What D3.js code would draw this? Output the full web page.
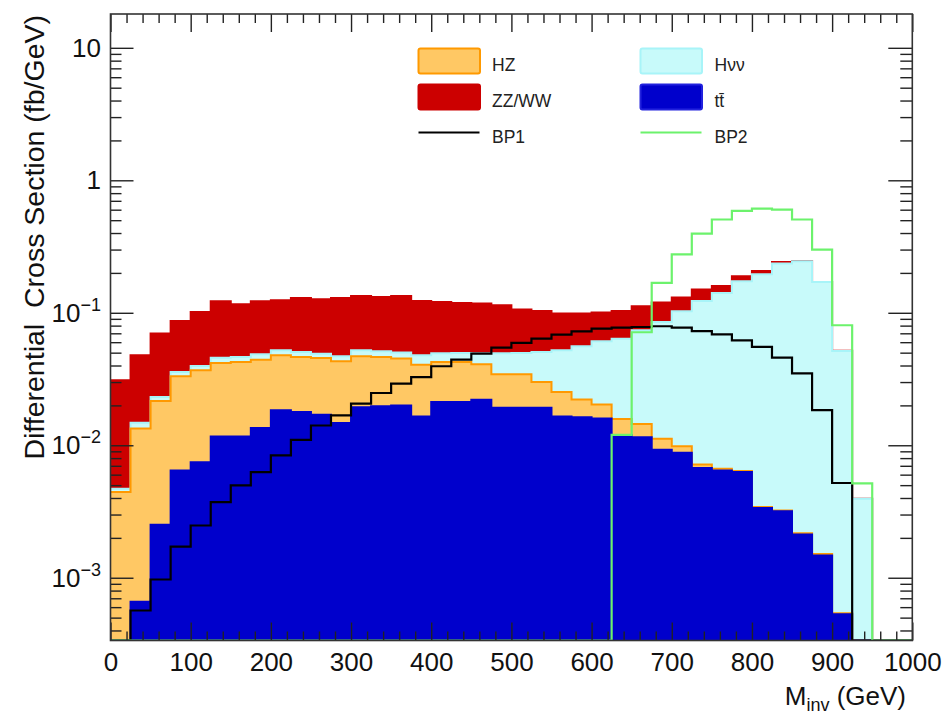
<!DOCTYPE html>
<html>
<head>
<meta charset="utf-8">
<script src="https://cdn.jsdelivr.net/npm/d3@7"></script>
<style>
  body { margin: 0; background: #fff; }
  svg { display: block; font-family: "Liberation Sans", Arial, Helvetica, sans-serif; }
</style>
</head>
<body>
<svg id="chart" width="946" height="714"></svg>
<script>
// Invariant-mass bins (lower edges, GeV); every bin is 25 GeV wide
const binLow = [0, 25, 50, 75, 100, 125, 150, 175, 200, 225, 250, 275, 300, 325, 350, 375,
  400, 425, 450, 475, 500, 525, 550, 575, 600, 625, 650, 675, 700, 725, 750, 775,
  800, 825, 850, 875, 900, 925, 950, 975];
const binWidth = 25;

// Backgrounds (fb/GeV per bin), stacked bottom to top: ttbar, HZ, Hvv, ZZ/WW
const ttbar = [0, 6.6e-4, 2.51e-3, 6.46e-3, 7.46e-3, 1.167e-2, 1.167e-2, 1.35e-2, 1.835e-2, 1.78e-2,
  1.70e-2, 1.47e-2, 1.94e-2, 1.97e-2, 2.00e-2, 1.65e-2, 2.12e-2, 2.12e-2, 2.21e-2, 1.92e-2,
  1.92e-2, 1.92e-2, 1.65e-2, 1.63e-2, 1.59e-2, 1.19e-2, 1.15e-2, 9.26e-3, 8.79e-3, 6.73e-3,
  6.46e-3, 6.28e-3, 3.36e-3, 3.17e-3, 2.12e-3, 1.47e-3, 5.3e-4, 0, 0, 0];
const hz = [4.43e-3, 1.27e-2, 1.906e-2, 2.67e-2, 2.93e-2, 3.01e-2, 3.08e-2, 3.08e-2, 2.94e-2, 2.855e-2,
  2.85e-2, 2.83e-2, 2.75e-2, 2.67e-2, 2.51e-2, 2.41e-2, 2.13e-2, 2.13e-2, 1.87e-2, 1.51e-2,
  1.51e-2, 1.08e-2, 8.7e-3, 5.9e-3, 4.4e-3, 3.9e-3, 3.0e-3, 1.95e-3, 1.02e-3, 4.4e-4,
  2.0e-4, 1.0e-4, 6e-5, 5e-5, 5e-5, 4e-5, 1e-5, 0, 0, 0];
const hvv = [2.7e-4, 1.4e-3, 1.55e-3, 2.57e-3, 2.85e-3, 4.1e-3, 3.9e-3, 4.3e-3, 4.35e-3, 4.2e-3,
  3.6e-3, 3.9e-3, 5.2e-3, 4.8e-3, 5.0e-3, 7.1e-3, 7.0e-3, 7.2e-3, 8.6e-3, 1.51e-2,
  1.54e-2, 2.06e-2, 2.69e-2, 3.36e-2, 4.07e-2, 4.79e-2, 5.92e-2, 7.40e-2, 9.28e-2, 0.1156,
  0.1344, 0.1665, 0.1919, 0.232, 0.2428, 0.1693, 5.1e-2, 3.95e-3, 0, 0];
const zzww = [2.62e-2, 3.31e-2, 4.66e-2, 5.10e-2, 6.18e-2, 7.62e-2, 6.95e-2, 7.35e-2, 7.22e-2, 7.87e-2,
  7.73e-2, 8.24e-2, 8.18e-2, 8.04e-2, 8.38e-2, 7.5e-2, 7.13e-2, 6.89e-2, 6.8e-2, 6.45e-2,
  5.6e-2, 5.26e-2, 4.65e-2, 4.28e-2, 3.94e-2, 3.94e-2, 3.82e-2, 3.42e-2, 2.76e-2, 2.69e-2,
  1.83e-2, 1.57e-2, 1.15e-2, 6.7e-3, 1.3e-3, 3e-4, 1e-4, 0, 0, 0];

// Signal benchmark points (unstacked)
const bp1 = [0, 5.66e-4, 9.70e-4, 1.72e-3, 2.48e-3, 3.72e-3, 4.98e-3, 6.28e-3, 8.39e-3, 1.10e-2,
  1.41e-2, 1.68e-2, 2.06e-2, 2.48e-2, 2.92e-2, 3.27e-2, 3.95e-2, 4.43e-2, 4.92e-2, 5.46e-2,
  5.92e-2, 6.38e-2, 6.84e-2, 7.25e-2, 7.59e-2, 7.73e-2, 7.81e-2, 7.91e-2, 7.73e-2, 7.27e-2,
  6.86e-2, 6.20e-2, 5.52e-2, 4.58e-2, 3.49e-2, 1.84e-2, 5.19e-3, 0, 0, 0];
const bp2 = [0, 0, 0, 0, 0, 0, 0, 0, 0, 0,
  0, 0, 0, 0, 0, 0, 0, 0, 0, 0,
  0, 0, 0, 0, 0, 1.20e-2, 7.13e-2, 0.168, 0.276, 0.396,
  0.506, 0.587, 0.612, 0.601, 0.506, 0.300, 8.05e-2, 5.15e-3, 0, 0];

// Axis ticks and labels
const xTickValues = [0, 100, 200, 300, 400, 500, 600, 700, 800, 900, 1000];
const xTickLabels = ["0", "100", "200", "300", "400", "500", "600", "700", "800", "900", "1000"];
const yTickValues = [1e-3, 1e-2, 1e-1, 1, 10];
const yTickBase = ["10", "10", "10", "1", "10"];
const yTickExp = ["\u22123", "\u22122", "\u22121", "", ""];

// Series styling and legend entries
const stackKeys = ["ttbar", "hz", "hvv", "zzww"];
const fills = { ttbar: "#0000cc", hz: "#ffc864", hvv: "#c8fafa", zzww: "#cc0000" };
const strokes = { ttbar: "#0000cc", hz: "#ff9900", hvv: "#a8f4f8", zzww: "#cc0000" };

const svg = d3.select("#chart");
const W = 946, H = 714;
const X0 = 110.5, X1 = 912.3, YT = 14, YB = 640.5;
const yMin = 3.36e-4, yMax = 18;

const x = d3.scaleLinear().domain([0, 1000]).range([X0, X1]);
const y = d3.scaleLog().domain([yMin, yMax]).range([YB, YT]);
const yc = v => y(Math.max(v, yMin));

svg.append("rect").attr("width", W).attr("height", H).attr("fill", "#fff");

svg.append("defs").append("clipPath").attr("id", "plotClip")
  .append("rect").attr("x", X0).attr("y", YT).attr("width", X1 - X0).attr("height", YB - YT);

const plot = svg.append("g").attr("clip-path", "url(#plotClip)");

// Stack the backgrounds
const rows = binLow.map((lo, i) => ({ lo, ttbar: ttbar[i], hz: hz[i], hvv: hvv[i], zzww: zzww[i] }));
const stacked = d3.stack().keys(stackKeys)(rows);

// Step points: one per bin left edge, plus closing point at the last bin's right edge
const stepPoints = vals => {
  const pts = binLow.map((lo, i) => ({ gx: lo, v: vals[i] }));
  pts.push({ gx: binLow[binLow.length - 1] + binWidth, v: vals[vals.length - 1] });
  return pts;
};

const area = d3.area().curve(d3.curveStepAfter)
  .x(d => x(d.gx)).y0(YB).y1(d => yc(d.v));
const line = d3.line().curve(d3.curveStepAfter)
  .x(d => x(d.gx)).y(d => yc(d.v));

// Draw the highest cumulative sum first, each lower sum over it
for (let s = stacked.length - 1; s >= 0; s--) {
  const layer = stacked[s];
  const key = layer.key;
  const pts = stepPoints(layer.map(d => d[1]));
  plot.append("path").datum(pts).attr("d", area).attr("fill", fills[key]);
  plot.append("path").datum(pts).attr("d", line)
    .attr("fill", "none").attr("stroke", strokes[key]).attr("stroke-width", 2);
}

plot.append("path").datum(stepPoints(bp1)).attr("d", line)
  .attr("fill", "none").attr("stroke", "#000").attr("stroke-width", 2.2);
plot.append("path").datum(stepPoints(bp2)).attr("d", line)
  .attr("fill", "none").attr("stroke", "#6cf26c").attr("stroke-width", 2.2);

// Axes with inward ticks on all four sides
const tickColor = "#222";
const styleAxis = g => {
  g.select(".domain").remove();
  g.selectAll(".tick line").attr("stroke", tickColor).attr("stroke-width", 1.4);
  g.selectAll(".tick text").attr("fill", "#111");
};
const xMinor = x.ticks(50).filter(v => v % 100 !== 0);
const yMinor = y.ticks().filter(v => Math.abs(Math.log10(v) - Math.round(Math.log10(v))) > 1e-6 && v <= 10);

svg.append("g").attr("transform", `translate(0,${YB})`)
  .call(d3.axisBottom(x).tickValues(xTickValues).tickSize(-18).tickPadding(12)
    .tickFormat((d, i) => xTickLabels[i]))
  .call(styleAxis)
  .call(g => g.selectAll(".tick text").attr("font-size", 26).attr("font-family", null));
svg.append("g").attr("transform", `translate(0,${YB})`)
  .call(d3.axisBottom(x).tickValues(xMinor).tickSize(-9).tickFormat(""))
  .call(styleAxis);
svg.append("g").attr("transform", `translate(0,${YT})`)
  .call(d3.axisTop(x).tickValues(xTickValues).tickSize(-18).tickFormat(""))
  .call(styleAxis);
svg.append("g").attr("transform", `translate(0,${YT})`)
  .call(d3.axisTop(x).tickValues(xMinor).tickSize(-9).tickFormat(""))
  .call(styleAxis);

svg.append("g").attr("transform", `translate(${X0},0)`)
  .call(d3.axisLeft(y).tickValues(yTickValues).tickSize(-23).tickPadding(9.5).tickFormat(""))
  .call(styleAxis)
  .call(g => g.selectAll(".tick text").each(function (d, i) {
    const t = d3.select(this).attr("font-size", 26).attr("font-family", null);
    t.append("tspan").text(yTickBase[i]);
    if (yTickExp[i]) {
      t.append("tspan").attr("font-size", 18).attr("dy", -11).text(yTickExp[i]);
    }
  }));
svg.append("g").attr("transform", `translate(${X0},0)`)
  .call(d3.axisLeft(y).tickValues(yMinor).tickSize(-11).tickFormat(""))
  .call(styleAxis);
svg.append("g").attr("transform", `translate(${X1},0)`)
  .call(d3.axisRight(y).tickValues(yTickValues).tickSize(-24).tickFormat(""))
  .call(styleAxis);
svg.append("g").attr("transform", `translate(${X1},0)`)
  .call(d3.axisRight(y).tickValues(yMinor).tickSize(-12).tickFormat(""))
  .call(styleAxis);

// Frame
svg.append("rect").attr("x", X0).attr("y", YT).attr("width", X1 - X0).attr("height", YB - YT)
  .attr("fill", "none").attr("stroke", "#333").attr("stroke-width", 1.6);

// Axis titles
svg.append("text")
  .attr("transform", `translate(44,${YT + 1}) rotate(-90)`)
  .attr("text-anchor", "end").attr("font-size", 28.5).attr("fill", "#111")
  .style("white-space", "pre")
  .text("Differential  Cross Section (fb/GeV)");

const xt = svg.append("text").attr("x", 906).attr("y", 705)
  .attr("text-anchor", "end").attr("font-size", 26).attr("fill", "#111");
xt.append("tspan").text("M");
xt.append("tspan").attr("font-size", 18).attr("dy", 6).text("inv");
xt.append("tspan").attr("dy", -6).text(" (GeV)");

// Legend
const legendItems = [
  { label: "HZ", kind: "box", fill: fills.hz, stroke: strokes.hz, col: 0, row: 0 },
  { label: "H\u03bd\u03bd", kind: "box", fill: fills.hvv, stroke: strokes.hvv, col: 1, row: 0 },
  { label: "ZZ/WW", kind: "box", fill: fills.zzww, stroke: fills.zzww, col: 0, row: 1 },
  { label: "tt\u0304", kind: "box", fill: fills.ttbar, stroke: "#2222dd", col: 1, row: 1 },
  { label: "BP1", kind: "line", stroke: "#000", col: 0, row: 2 },
  { label: "BP2", kind: "line", stroke: "#6cf26c", col: 1, row: 2 }
];
const colBoxX = [418.5, 640.5], colTextX = [492, 714.5];
const rowY = [61, 97, 132.5];
const lg = svg.append("g");
legendItems.forEach(it => {
  const bx = colBoxX[it.col], cy = rowY[it.row];
  if (it.kind === "box") {
    lg.append("rect").attr("x", bx).attr("y", cy - 12.5).attr("width", 61.5).attr("height", 25)
      .attr("rx", 2).attr("fill", it.fill).attr("stroke", it.stroke).attr("stroke-width", 2);
  } else {
    lg.append("line").attr("x1", bx).attr("x2", bx + 61).attr("y1", cy).attr("y2", cy)
      .attr("stroke", it.stroke).attr("stroke-width", 2);
  }
  lg.append("text").attr("x", colTextX[it.col]).attr("y", cy + 10)
    .attr("font-size", 17.5).attr("fill", "#222").text(it.label);
});
</script>
</body>
</html>
